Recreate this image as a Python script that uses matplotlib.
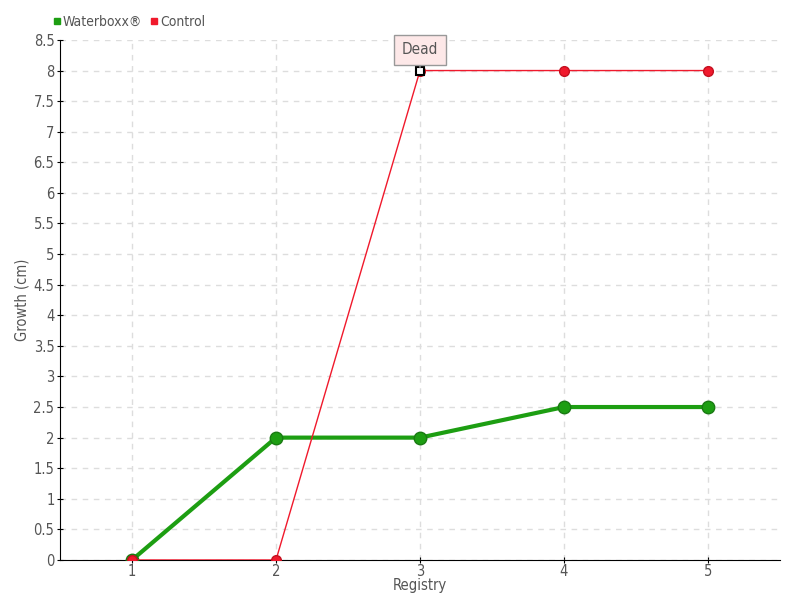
import matplotlib
matplotlib.use("Agg")
import matplotlib.pyplot as plt
from matplotlib.lines import Line2D
import numpy as np

registry = [1, 2, 3, 4, 5]
waterboxx = [0, 2, 2, 2.5, 2.5]
control = [0, 0, 8, 8, 8]
y_ticks = np.arange(0, 8.51, 0.5)

plt.rcParams["font.family"] = ["DejaVu Sans"]
plt.rcParams["font.stretch"] = "condensed"
TXT = "#555555"
GREEN = "#1d9e12"
RED = "#f0192c"

fig = plt.figure(figsize=(8, 6), dpi=100)
ax = fig.add_axes([0.075, 0.0667, 0.9, 0.8667])

ax.plot(registry, waterboxx, color=GREEN, linewidth=3, marker="o", markersize=9,
        markerfacecolor=GREEN, markeredgecolor="#197a12", zorder=3)
ax.plot(registry, control, color=RED, linewidth=1, marker="o", markersize=7,
        markerfacecolor=RED, markeredgecolor="#c4101f", zorder=4)
# highlighted point
ax.plot([3], [8], marker="s", markersize=6, markerfacecolor="white",
        markeredgecolor="black", markeredgewidth=1.5, zorder=5, linestyle="none")

ax.annotate("Dead", xy=(3, 8.05), xytext=(3, 8.34), ha="center", va="center",
            fontsize=11, color=TXT, fontstretch="condensed",
            bbox=dict(boxstyle="square,pad=0.5", fc="#fde8e8", ec="#999999", lw=1),
            arrowprops=dict(arrowstyle="-", color="#999999", lw=1), zorder=6)

ax.set_xlim(0.5, 5.5)
ax.set_ylim(0, 8.5)
ax.set_xticks(registry)
ax.set_yticks(y_ticks)
ax.set_yticklabels([f"{v:g}" for v in y_ticks])
ax.tick_params(axis="both", labelsize=10.5, labelcolor=TXT, color="black",
               direction="inout", length=4)
ax.tick_params(axis="x", pad=1)
ax.tick_params(axis="y", pad=2)
ax.grid(True, color="#dddddd", linestyle=(0, (4, 4)), linewidth=1)
ax.set_axisbelow(True)
for s in ["top", "right"]:
    ax.spines[s].set_visible(False)
ax.spines["left"].set_color("black")
ax.spines["bottom"].set_color("black")

ax.set_xlabel("Registry", fontsize=10.5, color=TXT)
ax.set_ylabel("Growth (cm)", fontsize=10.5, color=TXT)
ax.xaxis.set_label_coords(0.5, -0.034)
ax.yaxis.set_label_coords(-0.043, 0.5)

# legend
handles = [Line2D([], [], marker="s", color=GREEN, linestyle="none", markersize=5),
           Line2D([], [], marker="s", color=RED, linestyle="none", markersize=5)]
fig.legend(handles, ["Waterboxx\u00ae", "Control"], loc="center left",
           bbox_to_anchor=(0.058, 0.963), ncol=2, frameon=False, fontsize=10,
           handlelength=0.5, handletextpad=0.2, columnspacing=0.6,
           borderpad=0, labelcolor=TXT)

fig.savefig("out.png", dpi=100)
